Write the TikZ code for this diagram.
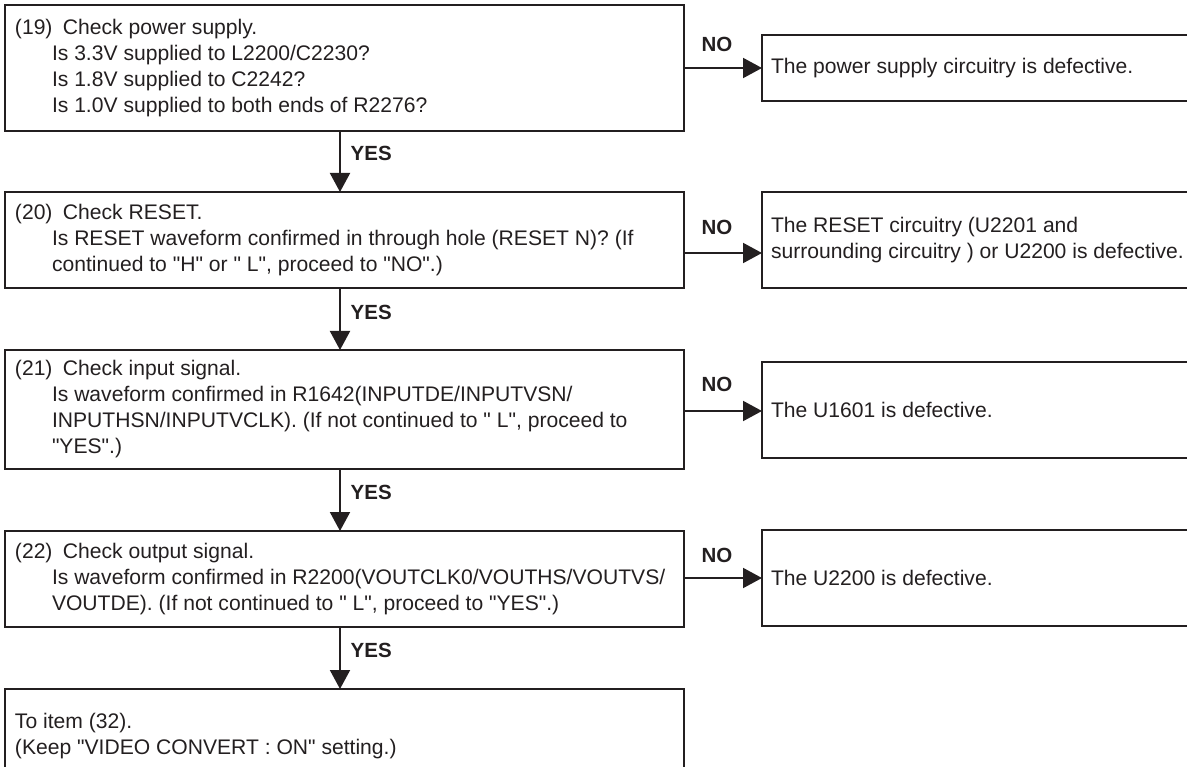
\documentclass[tikz,border=0pt]{standalone}
\usepackage{fontspec}
\setmainfont{Liberation Sans}
\newfontfamily\lsans{Liberation Sans}
\usetikzlibrary{arrows.meta}
\definecolor{ink}{HTML}{231F20}
\begin{document}
\begin{tikzpicture}[x=1pt,y=-1pt,
  box/.style={draw=ink,line width=2pt,rectangle,inner sep=0pt,outer sep=0pt,anchor=north west},
  txt/.style={text=ink,inner sep=0pt,outer sep=0pt,align=left,anchor=west,font=\lsans\fontsize{21.1}{26}\selectfont},
  lbl/.style={text=ink,inner sep=0pt,font=\lsans\bfseries\fontsize{20.5}{24}\selectfont},
  arr/.style={draw=ink,line width=2pt,-{Triangle[length=19pt,width=20pt]}}]
\useasboundingbox (0,0) rectangle (1187,767);
\clip (0,0) rectangle (1187,767);
% left boxes
\node[box,minimum width=679pt,minimum height=126pt] (b1) at (5,5) {};
\node[box,minimum width=679pt,minimum height=96pt] (b2) at (5,192) {};
\node[box,minimum width=679pt,minimum height=119pt] (b3) at (5,350) {};
\node[box,minimum width=679pt,minimum height=96pt] (b4) at (5,531) {};
\node[box,minimum width=679pt,minimum height=100pt] (b5) at (5,689) {};
% right boxes
\node[box,minimum width=450pt,minimum height=66pt] (r1) at (762,35) {};
\node[box,minimum width=450pt,minimum height=96pt] (r2) at (762,192) {};
\node[box,minimum width=450pt,minimum height=96pt] (r3) at (762,362) {};
\node[box,minimum width=450pt,minimum height=96pt] (r4) at (762,530) {};
% texts
\node[txt] (t1) at ([xshift=10pt]b1.west) {\makebox[48pt][l]{(19)}Check power supply.\\
\hspace*{37pt}Is 3.3V supplied to L2200/C2230?\\
\hspace*{37pt}Is 1.8V supplied to C2242?\\
\hspace*{37pt}Is 1.0V supplied to both ends of R2276?};
\node[txt] (t2) at ([xshift=10pt]b2.west) {\makebox[48pt][l]{(20)}Check RESET.\\
\hspace*{37pt}Is RESET waveform confirmed in through hole (RESET N)? (If\\
\hspace*{37pt}continued to "H" or " L", proceed to "NO".)};
\node[txt] (t3) at ([xshift=10pt]b3.west) {\makebox[48pt][l]{(21)}Check input signal.\\
\hspace*{37pt}Is waveform confirmed in R1642(INPUTDE/INPUTVSN/\\
\hspace*{37pt}INPUTHSN/INPUTVCLK). (If not continued to " L", proceed to\\
\hspace*{37pt}"YES".)};
\node[txt] (t4) at ([xshift=10pt]b4.west) {\makebox[48pt][l]{(22)}Check output signal.\\
\hspace*{37pt}Is waveform confirmed in R2200(VOUTCLK0/VOUTHS/VOUTVS/\\
\hspace*{37pt}VOUTDE). (If not continued to " L", proceed to "YES".)};
\node[txt] (t5) at ([shift={(10pt,-47pt)}]b5.north west) {To item (32).\\
(Keep "VIDEO CONVERT : ON" setting.)};
\node[txt] (s1) at ([xshift=9pt]r1.west) {The power supply circuitry is defective.};
\node[txt] (s2) at ([xshift=9pt]r2.west) {The RESET circuitry (U2201 and\\
surrounding circuitry ) or U2200 is defective.};
\node[txt] (s3) at ([xshift=9pt]r3.west) {The U1601 is defective.};
\node[txt] (s4) at ([xshift=9pt]r4.west) {The U2200 is defective.};
% YES arrows
\draw[arr] ([xshift=-4.5pt]b1.south) -- ([xshift=-4.5pt]b2.north);
\draw[arr] ([xshift=-4.5pt]b2.south) -- ([xshift=-4.5pt]b3.north);
\draw[arr] ([xshift=-4.5pt]b3.south) -- ([xshift=-4.5pt]b4.north);
\draw[arr] ([xshift=-4.5pt]b4.south) -- ([xshift=-4.5pt]b5.north);
\node[lbl,anchor=west] (y1) at ([shift={(6pt,-22pt)}]b1.south) {YES};
\node[lbl,anchor=west] (y2) at ([shift={(6pt,-24pt)}]b2.south) {YES};
\node[lbl,anchor=west] (y3) at ([shift={(6pt,-23pt)}]b3.south) {YES};
\node[lbl,anchor=west] (y4) at ([shift={(6pt,-23pt)}]b4.south) {YES};
% NO arrows
\draw[arr] (b1.east) -- (b1.east -| r1.west);
\draw[arr] ([yshift=-13pt]b2.east) -- ([yshift=-13pt]b2.east -| r2.west);
\draw[arr] ([yshift=-1.5pt]b3.east) -- ([yshift=-1.5pt]b3.east -| r3.west);
\draw[arr] ([yshift=1pt]b4.east) -- ([yshift=1pt]b4.east -| r4.west);
\node[lbl] (n1) at ([shift={(33pt,24pt)}]b1.east) {NO};
\node[lbl] (n2) at ([shift={(33pt,13pt)}]b2.east) {NO};
\node[lbl] (n3) at ([shift={(33pt,25.5pt)}]b3.east) {NO};
\node[lbl] (n4) at ([shift={(33pt,24pt)}]b4.east) {NO};
\end{tikzpicture}
\end{document}
